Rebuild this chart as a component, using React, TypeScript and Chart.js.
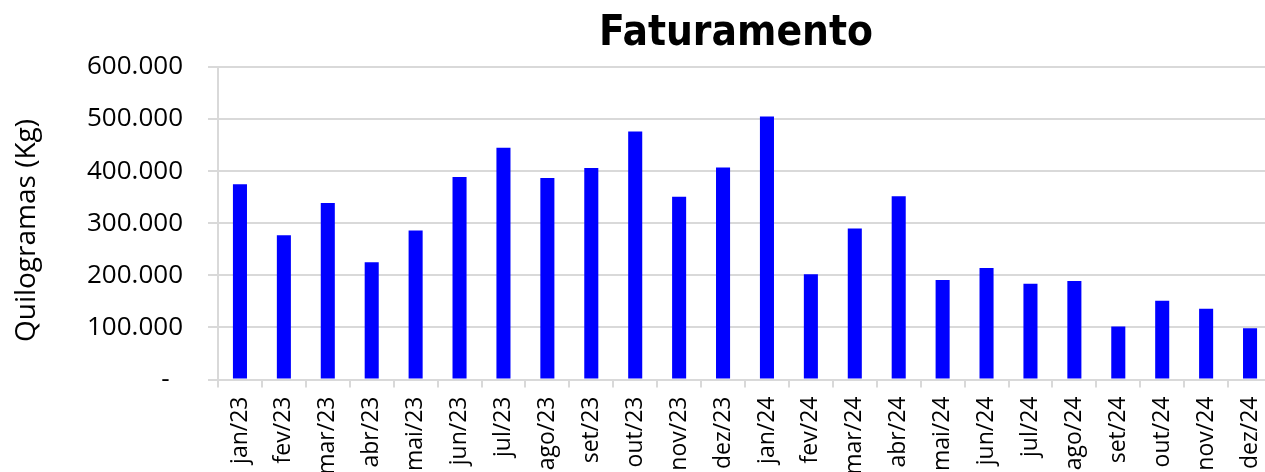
import React, { useEffect, useRef } from 'react';
import { Chart, registerables } from 'chart.js';

Chart.register(...registerables);

const chartTitle = 'Faturamento';
const yAxisTitle = 'Quilogramas (Kg)  ';

const categories = [
  'jan/23', 'fev/23', 'mar/23', 'abr/23', 'mai/23', 'jun/23',
  'jul/23', 'ago/23', 'set/23', 'out/23', 'nov/23', 'dez/23',
  'jan/24', 'fev/24', 'mar/24', 'abr/24', 'mai/24', 'jun/24',
  'jul/24', 'ago/24', 'set/24', 'out/24', 'nov/24', 'dez/24',
];

const faturamento = [
  375000, 277000, 339000, 225000, 286000, 389000,
  445000, 387000, 406000, 476000, 351000, 407000,
  505000, 202000, 290000, 352000, 191000, 214000,
  184000, 189000, 102000, 151000, 136000, 98500,
];

const yTickValues = [0, 100000, 200000, 300000, 400000, 500000, 600000];

const formatTick = (v: number) =>
  v === 0 ? '-  ' : String(Math.round(v)).replace(/\B(?=(\d{3})+(?!\d))/g, '.');

const GRID = '#d9d9d9';
const TEXT_FONT = "'Open Sans', 'Noto Sans', sans-serif";

const titlePlugin = {
  id: 'customTitle',
  afterDraw(chart: any) {
    const ctx = chart.ctx;
    ctx.save();
    ctx.font = "bold 42px 'DejaVu Sans Condensed', 'DejaVu Sans', sans-serif";
    ctx.fillStyle = '#000';
    ctx.textAlign = 'center';
    ctx.textBaseline = 'alphabetic';
    ctx.fillText(chartTitle, 736, 45);
    ctx.restore();
  },
};

export default function App() {
  const canvasRef = useRef<HTMLCanvasElement | null>(null);

  useEffect(() => {
    if (!canvasRef.current) return;
    const chart = new Chart(canvasRef.current, {
      type: 'bar',
      data: {
        labels: categories,
        datasets: [
          {
            label: chartTitle,
            data: faturamento,
            backgroundColor: '#0000ff',
            borderWidth: 0,
            categoryPercentage: 1,
            barPercentage: 0.32,
          },
        ],
      },
      plugins: [titlePlugin],
      options: {
        responsive: false,
        animation: false,
        devicePixelRatio: 1,
        layout: { padding: { top: 67, right: 18, left: 0, bottom: 0 } },
        plugins: {
          legend: { display: false },
          title: { display: false },
          tooltip: { enabled: false },
        },
        scales: {
          x: {
            grid: {
              display: true,
              drawOnChartArea: false,
              drawTicks: true,
              tickLength: 8,
              color: GRID,
              lineWidth: 2,
              offset: true,
            },
            border: { display: true, color: GRID, width: 2 },
            ticks: {
              autoSkip: false,
              minRotation: 90,
              maxRotation: 90,
              padding: 9,
              color: '#000',
              font: { family: TEXT_FONT, size: 23 },
            },
            afterFit: (scale: any) => {
              scale.height = 92.5;
            },
          },
          y: {
            min: 0,
            max: 600000,
            afterBuildTicks: (scale: any) => {
              scale.ticks = yTickValues.map((v) => ({ value: v }));
            },
            grid: {
              color: GRID,
              lineWidth: 2,
              drawTicks: true,
              tickLength: 10,
            },
            border: { display: true, color: GRID, width: 2 },
            ticks: {
              padding: 25,
              color: '#000',
              font: { family: TEXT_FONT, size: 26 },
              callback: (v: any) => formatTick(Number(v)),
            },
            title: {
              display: true,
              text: yAxisTitle,
              color: '#000',
              font: { family: TEXT_FONT, size: 28 },
              padding: { top: 10, bottom: 0 },
            },
            afterFit: (scale: any) => {
              scale.width = 218;
            },
          },
        },
      },
    });
    return () => chart.destroy();
  }, []);

  return (
    <div
      style={{
        position: 'fixed',
        left: 0,
        top: 0,
        width: 1265,
        height: 472,
        overflow: 'hidden',
        background: '#fff',
      }}
    >
      <canvas ref={canvasRef} width={1290} height={472} style={{ display: 'block' }} />
    </div>
  );
}
